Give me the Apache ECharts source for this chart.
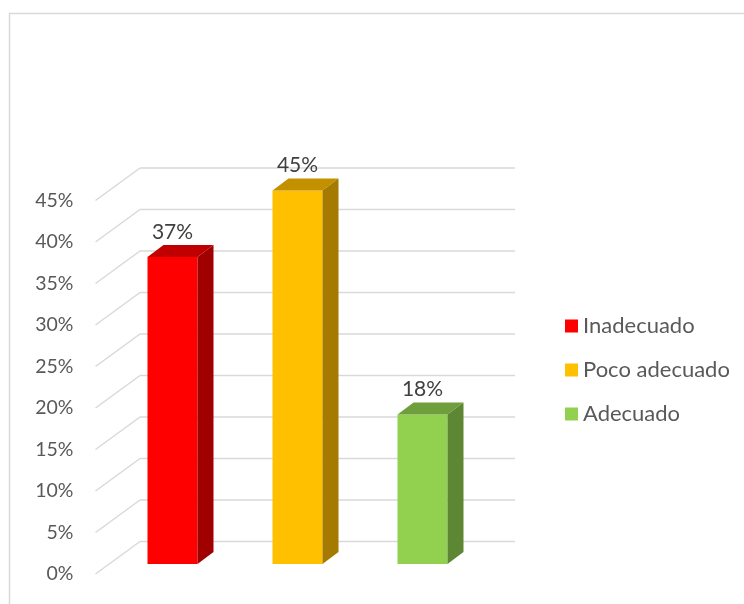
<!DOCTYPE html>
<html>
<head>
<meta charset="utf-8">
<script src="https://cdn.jsdelivr.net/npm/echarts@6/dist/echarts.min.js"></script>
<style>
  html, body { margin: 0; padding: 0; background: #fff; }
  #chart { width: 744px; height: 604px; }
</style>
</head>
<body>
<div id="chart"></div>
<script>
// data
const categories = ['Inadecuado', 'Poco adecuado', 'Adecuado']
const values = [0.37, 0.45, 0.18]
const yTicks = [0, 0.05, 0.1, 0.15, 0.2, 0.25, 0.3, 0.35, 0.4, 0.45]

// face colours: front, top, side
const faceColors = [
  ['#FF0000', '#C00000', '#A00000'],
  ['#FFC000', '#C39100', '#A47B00'],
  ['#92D050', '#6E9F3C', '#5E8734']
]

const font = 'Lato, "Open Sans", sans-serif'
const depth = [16, -12]     // bar side offset
const back = [30, -22.5]    // back wall offset from bar plane
const front = [-14.5, 10]   // front axis offset from bar plane

const pct = v => Math.round(v * 100) + '%'

const chart = echarts.init(document.getElementById('chart'))

const gridSeries = {
  type: 'custom',
  xAxisIndex: 0,
  yAxisIndex: 0,
  silent: true,
  z: 1,
  data: yTicks.map(t => [0, t]),
  renderItem: (params, api) => {
    const cs = params.coordSys
    const y = api.coord([0, api.value(1)])[1]
    const style = { stroke: '#D9D9D9', lineWidth: 1.5 }
    return {
      type: 'group',
      children: [
        { type: 'line', shape: { x1: cs.x + back[0], y1: y + back[1], x2: cs.x + cs.width + back[0], y2: y + back[1] }, style },
        { type: 'line', shape: { x1: cs.x + front[0], y1: y + front[1], x2: cs.x + back[0], y2: y + back[1] }, style }
      ]
    }
  }
}

const barSeries = categories.map((name, i) => ({
  name: name,
  type: 'custom',
  xAxisIndex: 0,
  yAxisIndex: 0,
  z: 2,
  itemStyle: { color: faceColors[i][0] },
  data: [[i, values[i]]],
  renderItem: (params, api) => {
    const top = api.coord([api.value(0), api.value(1)])
    const bot = api.coord([api.value(0), 0])
    const w = api.size([1, 0])[0] * 0.4
    const x0 = top[0] - w / 2, x1 = top[0] + w / 2
    const c = faceColors[i]
    return {
      type: 'group',
      children: [
        { type: 'rect', shape: { x: x0, y: top[1], width: w, height: bot[1] - top[1] }, style: { fill: c[0] } },
        { type: 'polygon', shape: { points: [[x0, top[1]], [x1, top[1]], [x1 + depth[0], top[1] + depth[1]], [x0 + depth[0], top[1] + depth[1]]] }, style: { fill: c[1] } },
        { type: 'polygon', shape: { points: [[x1, top[1]], [x1 + depth[0], top[1] + depth[1]], [x1 + depth[0], bot[1] + depth[1]], [x1, bot[1]]] }, style: { fill: c[2] } },
        { type: 'text', x: top[0], y: top[1] - 25, style: { text: pct(api.value(1)), fill: '#404040', font: '21px ' + font, align: 'center', verticalAlign: 'middle' } }
      ]
    }
  }
}))

const option = {
  animation: false,
  backgroundColor: '#fff',
  graphic: [{
    type: 'rect',
    left: 7, top: 11,
    shape: { width: 760, height: 620 },
    style: { fill: 'none', stroke: '#D9D9D9', lineWidth: 1.5 },
    silent: true
  }],
  legend: {
    orient: 'vertical',
    left: 560,
    top: 310,
    icon: 'rect',
    itemWidth: 13,
    itemHeight: 13,
    itemGap: 22,
    textStyle: { fontSize: 22, lineHeight: 22, color: '#595959', fontFamily: font },
    data: categories
  },
  grid: [
    { left: 110, right: 259, top: 190.5, bottom: 40 },
    { left: 95.5, width: 10, top: 200.5, bottom: 30 }
  ],
  xAxis: [
    { type: 'category', gridIndex: 0, data: categories, show: false },
    { type: 'value', gridIndex: 1, show: false }
  ],
  yAxis: [
    { type: 'value', gridIndex: 0, min: 0, max: 0.45, interval: 0.05, show: false },
    {
      type: 'value', gridIndex: 1, min: 0, max: 0.45, interval: 0.05,
      axisLine: { show: false }, axisTick: { show: false }, splitLine: { show: false },
      axisLabel: { formatter: pct, margin: 22, fontSize: 19.5, color: '#595959', fontFamily: font }
    }
  ],
  series: [gridSeries, ...barSeries]
}

chart.setOption(option)
</script>
</body>
</html>
